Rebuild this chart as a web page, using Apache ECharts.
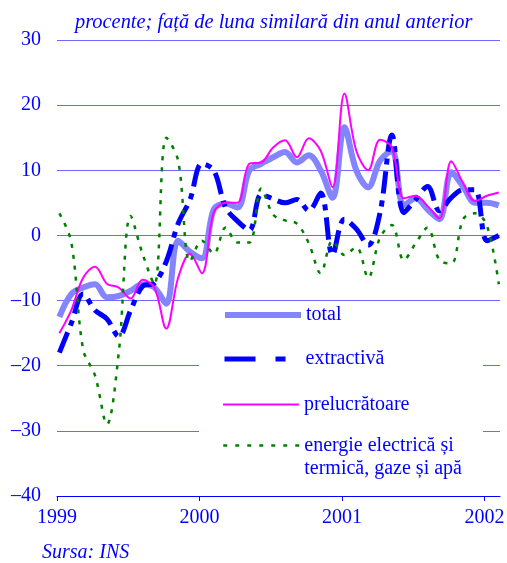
<!DOCTYPE html>
<html>
<head>
<meta charset="utf-8">
<script src="https://cdn.jsdelivr.net/npm/echarts@6/dist/echarts.min.js"></script>
<style>
  html, body { margin: 0; padding: 0; background: #fff; }
  #chart { width: 507px; height: 563px; }
</style>
</head>
<body>
<div id="chart"></div>
<script>
// date lunare: ianuarie 1999 - februarie 2002 (38 luni)
const yearLabels = ['1999', '2000', '2001', '2002'];
const seriesNames = ['total', 'extractivă', 'prelucrătoare', 'energie electrică și termică, gaze și apă'];

const total = [-12.5, -9, -8, -7.5, -9.5, -9.3, -8.5, -7.5, -8, -10.5,
  -0.8, -2.5, -3.5, 4, 4.9, 4.3, 10, 11, 12, 12.8,
  11.2, 12.3, 10, 5.8, 16.6, 10, 7.4, 11.5, 13, 4.6,
  5.7, 4, 2.5, 9.7, 7.5, 5, 5, 4.6];
const extractiva = [-18, -13.5, -9, -11.5, -12.8, -15.5, -11.5, -7.8, -7.3, -4,
  1.8, 5.5, 11, 10, 4.3, 2.2, 0.8, 6.3, 5.6, 5,
  5.5, 3.8, 6.5, -3, 2.5, 1, -1.5, 3.5, 15.4, 3.5,
  5.5, 7.5, 3.8, 5.8, 7, 7, -0.8, 0];
const prelucratoare = [-15, -11.5, -6.5, -4.8, -7.4, -8, -9.7, -6.8, -8, -14.3,
  -6.5, -2.8, -5.8, 3.5, 5, 5, 11, 11.2, 13.5, 14.6,
  12, 14.9, 13, 7.4, 21.8, 13, 10, 14.7, 13.5, 5.7,
  6.1, 4.5, 2.6, 11.4, 8, 5.3, 6.1, 6.6];
const energie = [3.4, -1, -17.5, -21.5, -29, -18, 3, -2.8, -7.5, 15,
  11.5, -4, -0.8, -2.8, 1.2, -1.1, -1.1, 7.2, 3.2, 2.3,
  1.8, -1.2, -5.8, -0.8, -3, -1.8, -6.5, -0.3, 1.6, -3.8,
  -1.2, 1.2, -3.8, -4.3, 2.5, 3.4, 1.5, -7.5];

const blue = '#0000ff';
const font = "'Liberation Serif', 'Times New Roman', serif";
const yearTicks = yearLabels.map((y, k) => k * 12);

// valoarea lunii i pe axa x (luni de la ianuarie 1999)
function toPoints(arr) {
  return arr.map((v, i) => [i + 0.2, v]);
}

function legendAt(name, top, lineStyle, extra) {
  return Object.assign({
    data: [name],
    left: 222,
    top: top,
    padding: 0,
    itemWidth: 76,
    itemHeight: 14,
    selectedMode: false,
    lineStyle: lineStyle,
    itemStyle: { color: 'rgba(0,0,0,0)', borderWidth: 0, opacity: 0 },
    textStyle: { fontFamily: font, fontSize: 20, color: blue, lineHeight: 23 }
  }, extra || {});
}

const chart = echarts.init(document.getElementById('chart'));
chart.setOption({
  animation: false,
  title: {
    text: 'procente; față de luna similară din anul anterior',
    left: 75,
    top: 13,
    padding: 0,
    textStyle: { fontFamily: font, fontStyle: 'italic', fontWeight: 'normal', fontSize: 20.4, color: blue }
  },
  graphic: [
    { type: 'rect', z: 3, shape: { x: 199, y: 305, width: 284, height: 186 }, style: { fill: '#fff' } },
    { type: 'text', left: 42, top: 543, style: { text: 'Sursa: INS', font: 'italic 20px ' + font, fill: blue } }
  ],
  legend: [
    legendAt(seriesNames[0], 303.5, { width: 6 }),
    legendAt(seriesNames[1], 347.5, { width: 5, type: [31, 20, 10, 20] }),
    legendAt(seriesNames[2], 393, { width: 2 }),
    legendAt(seriesNames[3], 411, { width: 2.5, type: [4, 8] }, {
      // linie goala in fata ca textul sa inceapa la nivelul simbolului
      formatter: () => ' \nenergie electrică și\ntermică, gaze și apă'
    })
  ],
  grid: { left: 57, right: 7, top: 40, bottom: 67, outerBoundsMode: 'none' },
  xAxis: {
    type: 'value',
    min: 0,
    max: 37.3,
    axisLine: { show: true, onZero: false, lineStyle: { color: blue, width: 1 } },
    axisTick: { show: true, customValues: yearTicks, length: 5, lineStyle: { color: blue } },
    axisLabel: {
      customValues: yearTicks,
      formatter: v => yearLabels[Math.round(v / 12)],
      fontFamily: font, fontSize: 20, color: blue, margin: 12
    },
    splitLine: { show: false }
  },
  yAxis: {
    type: 'value',
    min: -40,
    max: 30,
    interval: 10,
    axisLine: { show: false },
    axisTick: { show: false },
    axisLabel: {
      formatter: v => (v < 0 ? '\u2013' + (-v) : String(v)),
      fontFamily: font, fontSize: 20, color: blue, margin: 16
    },
    splitLine: { lineStyle: { color: '#6b6bff', width: 1 } }
  },
  series: [
    {
      name: seriesNames[0], type: 'line', data: toPoints(total),
      smooth: 0.35, symbol: 'none', color: '#8484ff',
      lineStyle: { color: '#8484ff', width: 6 }
    },
    {
      name: seriesNames[1], type: 'line', data: toPoints(extractiva),
      smooth: 0.35, symbol: 'none', color: '#0000ff',
      lineStyle: { color: '#0000ff', width: 5, type: [22, 7, 6, 7] }
    },
    {
      name: seriesNames[2], type: 'line', data: toPoints(prelucratoare),
      smooth: 0.35, symbol: 'none', color: '#ff00ff',
      lineStyle: { color: '#ff00ff', width: 2 }
    },
    {
      name: seriesNames[3], type: 'line', data: toPoints(energie),
      smooth: 0.35, symbol: 'none', color: '#008000',
      lineStyle: { color: '#008000', width: 2.5, type: [4, 7] }
    }
  ]
});
</script>
</body>
</html>
